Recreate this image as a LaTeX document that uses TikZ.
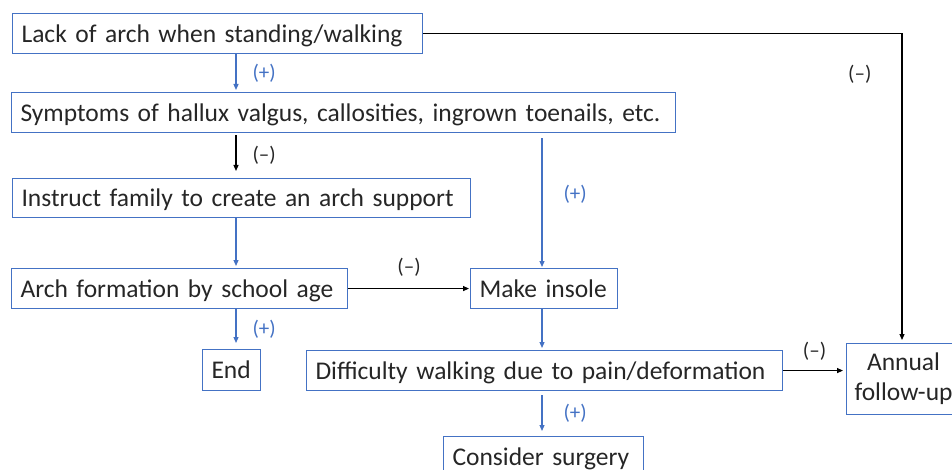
\documentclass[tikz,border=0pt]{standalone}
\usepackage{fontspec}
\setmainfont{Carlito}
\usetikzlibrary{positioning}
\usetikzlibrary{arrows.meta}
\usetikzlibrary{calc}
\definecolor{officeblue}{RGB}{68,114,196}
\definecolor{inkgray}{RGB}{38,38,38}

\begin{document}
\begin{tikzpicture}[x=1pt,y=-1pt]
  % \draw (0,0) grid (952,470);

  \tikzset{box common/.style={draw=officeblue, line width=1.1pt, anchor=north west, inner xsep=9pt, inner ysep=0pt,
      minimum height=40pt, align=left, text=inkgray, font=\fontsize{25.5}{30}\selectfont, text height=21pt, text depth=4pt}}
  \tikzset{flow box/.style={box common}}
  \tikzset{link common/.style={line width=1.2pt, -{Triangle[length=6pt,width=5pt]}}}
  \tikzset{plus link/.style={link common, officeblue}}
  \tikzset{minus link/.style={link common, black}}
  \tikzset{sign/.style={inner sep=0pt, font=\fontsize{21}{21}\selectfont}}
  \tikzset{plus sign/.style={sign, text=officeblue}}
  \tikzset{minus sign/.style={sign, text=inkgray}}

  \clip (0,0) rectangle (952,470);

  \coordinate (leftcol) at (236,0);
  \coordinate (midcol) at (542,0);
  \coordinate (rightcol) at (902,0);

  % boxes
  \node[flow box, text width=392pt] (lack) at (12,13) {Lack of arch when standing/walking};
  \node[flow box, text width=646pt] (symptoms) at (11,92) {Symptoms of hallux valgus, callosities, ingrown toenails, etc.};
  \node[flow box, text width=440pt, minimum height=39pt] (instruct) at (12,178) {Instruct family to create an arch support};
  \node[flow box, text width=318pt] (archform) at (11,268) {Arch formation by school age};
  \node[flow box, text width=129pt] (insole) at (470,268) {Make insole};
  \node[flow box, text width=40pt, minimum height=41pt] (endnode) at (202,349) {End};
  \node[flow box, text width=458pt] (difficulty) at (306,350) {Difficulty walking due to pain/deformation};
  \node[flow box, text width=110pt, inner xsep=2pt, align=center, minimum height=71pt, text height=, text depth=] (followup) at (846,343) {Annual\\follow-up};
  \node[flow box, text width=182pt] (surgery) at (443,436) {Consider surgery};
  %
  % connectors
  \draw[plus link, shorten >=2pt] (lack.south -| leftcol) -- (symptoms.north -| leftcol)
    node[midway, right=16pt, plus sign] {(+)};
  \draw[minus link, shorten <=2pt, shorten >=7pt] (symptoms.south -| leftcol) -- (instruct.north -| leftcol)
    node[midway, right=16pt, minus sign] {(–)};
  \draw[plus link, shorten >=2pt] (instruct.south -| leftcol) -- (archform.north -| leftcol);
  \draw[minus link, shorten >=1pt] (archform.east) -- (insole.west)
    node[midway, above=12pt, minus sign] {(–)};
  \draw[plus link, shorten <=5pt, shorten >=1pt] (symptoms.south -| midcol) -- (insole.north -| midcol)
    node[pos=0.45, right=21pt, plus sign] {(+)};
  \draw[plus link, shorten >=6pt] (archform.south -| leftcol) -- (endnode.north -| leftcol)
    node[midway, right=16pt, plus sign] {(+)};
  \draw[plus link, shorten >=2pt] (insole.south -| midcol) -- (difficulty.north -| midcol);
  \draw[plus link, shorten <=4pt, shorten >=5pt] (difficulty.south -| midcol) -- (surgery.north -| midcol)
    node[midway, right=21pt, plus sign] {(+)};
  \draw[minus link, shorten >=3pt] (difficulty.east) -- (difficulty.east -| followup.west)
    node[midway, above=10pt, minus sign] {(–)};
  \draw[minus link, shorten >=3pt] (lack.east) -| (followup.north -| rightcol)
    node[pos=0.565, left=30pt, minus sign] {(–)};
\end{tikzpicture}
\end{document}
